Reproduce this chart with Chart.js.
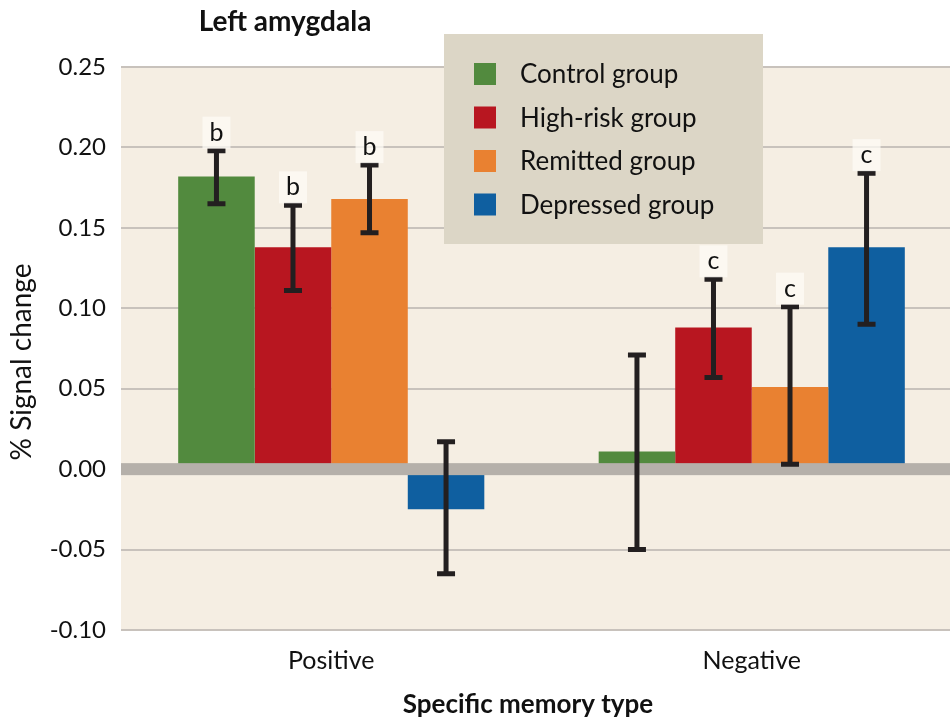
<!DOCTYPE html>
<html><head><meta charset="utf-8">
<script src="https://cdn.jsdelivr.net/npm/chart.js@4.4.1/dist/chart.umd.min.js"></script>
<style>
html,body{margin:0;padding:0;background:#fff;overflow:hidden;}
#wrap{width:962px;height:719px;position:relative;}
</style></head>
<body><div id="wrap"><canvas id="c" width="962" height="719"></canvas></div>
<script>
const categories = ['Positive', 'Negative'];
const seriesNames = ['Control group', 'High-risk group', 'Remitted group', 'Depressed group'];
const control   = [0.182, 0.011];
const highRisk  = [0.138, 0.088];
const remitted  = [0.168, 0.051];
const depressed = [-0.025, 0.138];
const controlLow   = [0.165, -0.050], controlHigh   = [0.198, 0.071];
const highRiskLow  = [0.111, 0.057],  highRiskHigh  = [0.164, 0.118];
const remittedLow  = [0.147, 0.003],  remittedHigh  = [0.189, 0.101];
const depressedLow = [-0.065, 0.090], depressedHigh = [0.017, 0.184];
const controlMark   = ['b', ''];
const highRiskMark  = ['b', 'c'];
const remittedMark  = ['b', 'c'];
const depressedMark = ['', 'c'];
const yTicks = [-0.10, -0.05, 0.00, 0.05, 0.10, 0.15, 0.20, 0.25];

const colors = ['#528a3e', '#b81620', '#e98131', '#0f5fa0'];
const values = [control, highRisk, remitted, depressed];
const lows = [controlLow, highRiskLow, remittedLow, depressedLow];
const highs = [controlHigh, highRiskHigh, remittedHigh, depressedHigh];
const marks = [controlMark, highRiskMark, remittedMark, depressedMark];
const FONT = 'Lato, "Open Sans", sans-serif';

const decor = {
  id: 'decor',
  beforeDraw(chart) {
    const {ctx, chartArea: a} = chart;
    ctx.save();
    ctx.fillStyle = '#f5eee3';
    ctx.fillRect(a.left, a.top, a.right - a.left, a.bottom - a.top);
    ctx.restore();
  },
  afterDatasetsDraw(chart) {
    const {ctx, chartArea: a, scales: {y}} = chart;
    ctx.save();
    const y0 = y.getPixelForValue(0);
    ctx.fillStyle = '#b5b0aa';
    ctx.fillRect(a.left, y0 - 6, a.right - a.left, 12);
    ctx.strokeStyle = '#231f20';
    ctx.lineWidth = 5;
    values.forEach((vals, i) => {
      const meta = chart.getDatasetMeta(i);
      meta.data.forEach((bar, j) => {
        const x = bar.x;
        const yl = y.getPixelForValue(lows[i][j]);
        const yh = y.getPixelForValue(highs[i][j]);
        ctx.beginPath();
        ctx.moveTo(x, yl); ctx.lineTo(x, yh);
        ctx.moveTo(x - 9, yl); ctx.lineTo(x + 9, yl);
        ctx.moveTo(x - 9, yh); ctx.lineTo(x + 9, yh);
        ctx.stroke();
        const m = marks[i][j];
        if (m) {
          const ly = yh - 18;
          ctx.fillStyle = 'rgba(253,251,245,0.75)';
          ctx.fillRect(x - 14, ly - 16, 28, 32);
          ctx.fillStyle = '#111';
          ctx.font = '25px ' + FONT;
          ctx.textAlign = 'center';
          ctx.textBaseline = 'middle';
          ctx.fillText(m, x, ly);
        }
      });
    });
    ctx.restore();
  },
  afterDraw(chart) {
    const {ctx} = chart;
    ctx.save();
    ctx.fillStyle = '#dcd6c6';
    ctx.fillRect(444, 34, 319, 210);
    ctx.font = '26px ' + FONT;
    ctx.textAlign = 'left';
    ctx.textBaseline = 'middle';
    seriesNames.forEach((n, i) => {
      const cy = 74 + i * 43.5;
      ctx.fillStyle = colors[i];
      ctx.fillRect(474, cy - 11, 22, 22);
      ctx.fillStyle = '#111';
      ctx.fillText(n, 520, cy + 1);
    });
    ctx.fillStyle = '#111';
    ctx.textAlign = 'center';
    ctx.font = 'bold 28px ' + FONT;
    ctx.fillText('Left amygdala', 285, 22);
    ctx.font = 'bold 26px ' + FONT;
    ctx.fillText('Specific memory type', 528, 705);
    ctx.translate(22, 362);
    ctx.rotate(-Math.PI / 2);
    ctx.font = '28px ' + FONT;
    ctx.fillText('% Signal change', 0, 0);
    ctx.restore();
  }
};

new Chart(document.getElementById('c'), {
  type: 'bar',
  data: {
    labels: categories,
    datasets: seriesNames.map((n, i) => ({
      label: n, data: values[i], backgroundColor: colors[i], borderWidth: 0,
      categoryPercentage: 0.728, barPercentage: 1.0
    }))
  },
  options: {
    responsive: false, animation: false,
    layout: {padding: {top: 67, left: 0, right: 0, bottom: 0}},
    plugins: {legend: {display: false}, title: {display: false}, tooltip: {enabled: false}},
    scales: {
      x: {
        grid: {display: false, drawTicks: false}, border: {display: false},
        ticks: {font: {family: FONT, size: 25}, color: '#111', padding: 16},
        afterFit(s) { s.height = 89; }
      },
      y: {
        min: -0.1, max: 0.25,
        afterBuildTicks(s) { s.ticks = yTicks.map(v => ({value: v})); },
        grid: {
          drawTicks: false, lineWidth: 2,
          color: c => (c.tick && Math.abs(c.tick.value) < 1e-9) ? 'rgba(0,0,0,0)' : '#c8c2bc'
        },
        border: {display: false},
        ticks: {font: {family: FONT, size: 24}, color: '#111', padding: 15,
          callback: v => Number(v).toFixed(2)},
        afterFit(s) { s.width = 121; }
      }
    }
  },
  plugins: [decor]
});
</script></body></html>
